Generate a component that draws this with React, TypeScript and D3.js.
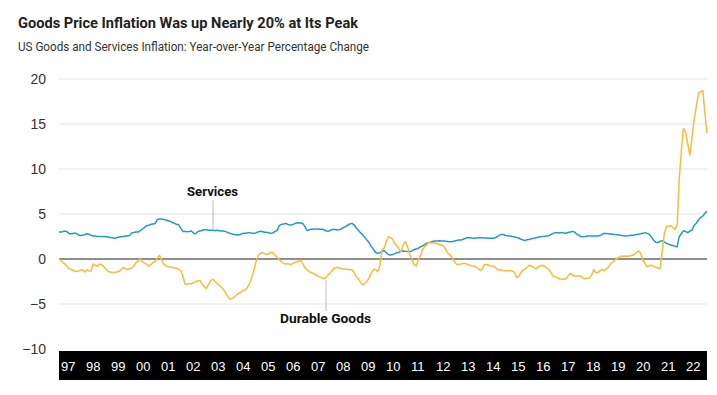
import { useEffect, useRef } from "react";
import * as d3 from "d3";

// monthly values, Jan 1997 .. Apr 2022 (year-over-year %)
const services = [
  // 1997
  3.0, 3.0, 3.05, 3.1, 3.0, 2.8, 2.8, 2.85, 2.85, 2.7, 2.6, 2.65,
  // 1998
  2.7, 2.8, 2.75, 2.65, 2.55, 2.55, 2.5, 2.5, 2.5, 2.5, 2.48, 2.45,
  // 1999
  2.4, 2.35, 2.3, 2.35, 2.45, 2.48, 2.5, 2.55, 2.55, 2.6, 2.9, 2.95,
  // 2000
  3.0, 3.0, 3.15, 3.3, 3.5, 3.7, 3.75, 3.85, 3.9, 3.95, 4.4, 4.45,
  // 2001
  4.45, 4.4, 4.33, 4.25, 4.2, 4.05, 3.96, 3.85, 3.8, 3.4, 3.05, 3.05,
  // 2002
  3.04, 3.05, 3.1, 2.85, 2.8, 3.05, 3.1, 3.2, 3.26, 3.25, 3.2, 3.2,
  // 2003
  3.2, 3.15, 3.2, 3.15, 3.1, 3.1, 3.04, 2.95, 2.85, 2.78, 2.72, 2.7,
  // 2004
  2.67, 2.75, 2.85, 2.85, 2.9, 2.93, 2.88, 2.85, 2.9, 3.0, 3.07, 3.05,
  // 2005
  2.98, 2.96, 2.92, 2.85, 2.9, 3.05, 3.15, 3.7, 3.85, 3.9, 3.96, 3.85,
  // 2006
  3.78, 3.8, 3.9, 4.0, 4.04, 4.0, 3.96, 3.6, 3.15, 3.25, 3.3, 3.3,
  // 2007
  3.33, 3.33, 3.3, 3.3, 3.25, 3.1, 3.07, 3.2, 3.3, 3.28, 3.22, 3.25,
  // 2008
  3.35, 3.5, 3.6, 3.75, 3.9, 3.96, 3.8, 3.45, 3.2, 2.9, 2.7, 2.4,
  // 2009
  2.1, 1.8, 1.4, 1.1, 0.75, 0.63, 0.7, 0.8, 0.95, 0.7, 0.5, 0.44,
  // 2010
  0.5, 0.6, 0.7, 0.75, 0.85, 0.89, 0.85, 0.82, 0.81, 0.9, 1.05, 1.1,
  // 2011
  1.2, 1.35, 1.45, 1.6, 1.74, 1.8, 1.9, 1.98, 2.0, 2.0, 2.02, 2.0,
  // 2012
  2.0, 1.98, 1.95, 1.93, 1.95, 2.0, 2.05, 2.1, 2.12, 2.2, 2.3, 2.37,
  // 2013
  2.37, 2.33, 2.3, 2.32, 2.37, 2.36, 2.35, 2.33, 2.32, 2.3, 2.3, 2.3,
  // 2014
  2.35, 2.5, 2.65, 2.74, 2.7, 2.62, 2.56, 2.55, 2.5, 2.45, 2.4, 2.3,
  // 2015
  2.2, 2.1, 2.05, 2.15, 2.2, 2.26, 2.3, 2.35, 2.42, 2.48, 2.5, 2.52,
  // 2016
  2.56, 2.58, 2.7, 2.85, 2.93, 2.93, 2.9, 2.93, 2.9, 2.85, 2.95, 3.0,
  // 2017
  3.07, 3.0, 2.78, 2.65, 2.5, 2.48, 2.5, 2.55, 2.56, 2.55, 2.55, 2.56,
  // 2018
  2.56, 2.6, 2.75, 2.85, 2.82, 2.8, 2.78, 2.75, 2.72, 2.7, 2.67, 2.62,
  // 2019
  2.58, 2.56, 2.58, 2.62, 2.65, 2.67, 2.72, 2.76, 2.8, 2.85, 2.93, 2.85,
  // 2020
  2.74, 2.45, 2.1, 1.85, 1.81, 1.95, 2.04, 1.9, 1.74, 1.65, 1.56, 1.5,
  // 2021
  1.42, 1.37, 2.48, 2.8, 3.15, 3.05, 2.93, 3.1, 3.22, 3.75, 4.0, 4.33,
  // 2022
  4.6, 4.78, 5.05, 5.3,
];

const durableGoods = [
  // 1997
  0.0, -0.2, -0.4, -0.6, -0.85, -1.1, -1.2, -1.3, -1.4, -1.35, -1.25, -1.2,
  // 1998
  -1.45, -1.2, -1.3, -1.35, -0.55, -0.7, -0.8, -0.55, -0.65, -0.85, -1.1, -1.4,
  // 1999
  -1.45, -1.5, -1.5, -1.45, -1.4, -1.2, -0.95, -1.05, -1.2, -1.1, -1.0, -0.8,
  // 2000
  -0.4, -0.2, 0.0, -0.3, -0.45, -0.6, -0.8, -0.6, -0.4, -0.25, 0.1, 0.4,
  // 2001
  -0.1, -0.6, -0.75, -0.85, -0.9, -0.95, -1.0, -1.0, -1.15, -1.3, -2.0, -2.8,
  // 2002
  -2.78, -2.75, -2.75, -2.6, -2.5, -2.45, -2.4, -2.8, -3.1, -3.25, -2.8, -2.4,
  // 2003
  -2.25, -2.5, -2.7, -2.9, -3.15, -3.4, -3.8, -4.2, -4.48, -4.4, -4.2, -4.0,
  // 2004
  -3.8, -3.7, -3.5, -3.44, -3.2, -2.8, -2.2, -1.4, -0.4, 0.33, 0.6, 0.7,
  // 2005
  0.6, 0.5, 0.55, 0.74, 0.7, 0.44, 0.2, -0.1, -0.3, -0.5, -0.55, -0.5,
  // 2006
  -0.6, -0.55, -0.4, -0.33, -0.25, -0.15, -0.5, -0.96, -1.2, -1.4, -1.5, -1.6,
  // 2007
  -1.75, -1.9, -2.0, -2.1, -2.2, -2.0, -1.75, -1.5, -1.2, -0.96, -0.95, -1.0,
  // 2008
  -1.05, -1.1, -1.15, -1.15, -1.2, -1.2, -1.5, -2.0, -2.2, -2.6, -2.9, -2.7,
  // 2009
  -2.44, -2.1, -1.6, -1.2, -1.15, -1.4, -0.8, 1.0, 1.2, 1.9, 2.48, 2.4,
  // 2010
  2.19, 1.7, 1.5, 1.1, 0.81, 1.6, 1.93, 1.37, 0.5, -0.04, -0.6, -0.78,
  // 2011
  -0.1, 0.4, 1.0, 1.37, 1.6, 1.81, 1.8, 1.78, 1.74, 1.7, 1.6, 1.56,
  // 2012
  1.4, 1.0, 0.6, 0.44, 0.1, -0.3, -0.6, -0.58, -0.55, -0.5, -0.5, -0.6,
  // 2013
  -0.7, -0.75, -0.78, -0.9, -1.05, -1.26, -1.1, -0.6, -0.6, -0.7, -0.78, -0.8,
  // 2014
  -0.9, -1.2, -1.2, -1.25, -1.3, -1.3, -1.3, -1.3, -1.32, -1.5, -2.07, -1.9,
  // 2015
  -1.5, -1.2, -1.15, -0.9, -0.7, -0.8, -0.95, -1.1, -0.9, -0.75, -0.7, -0.8,
  // 2016
  -1.0, -1.15, -1.5, -1.9, -1.96, -2.1, -2.19, -2.22, -2.26, -2.2, -1.9, -1.6,
  // 2017
  -1.75, -1.9, -1.9, -1.9, -1.9, -2.1, -2.2, -2.15, -2.1, -1.8, -1.2, -1.5,
  // 2018
  -1.5, -1.3, -1.15, -1.3, -1.1, -0.85, -0.5, -0.33, -0.1, 0.04, 0.2, 0.33,
  // 2019
  0.3, 0.33, 0.3, 0.35, 0.41, 0.5, 0.7, 0.89, 0.6, -0.11, -0.5, -0.85,
  // 2020
  -0.75, -0.7, -0.8, -0.9, -1.0, -1.07, 0.7, 2.8, 3.6, 3.65, 3.7, 3.5,
  // 2021
  3.3, 3.8, 8.8, 12.0, 14.5, 14.1, 12.8, 11.55, 13.6, 15.5, 17.0, 18.4,
  // 2022
  18.6, 18.7, 16.3, 14.0,
];

const yTicks = [20, 15, 10, 5, 0, -5, -10];
const yearLabels = [
  "97", "98", "99", "00", "01", "02", "03", "04", "05", "06", "07", "08", "09",
  "10", "11", "12", "13", "14", "15", "16", "17", "18", "19", "20", "21", "22",
];

const W = 717;
const H = 395;

export default function App() {
  const ref = useRef<SVGSVGElement>(null);

  useEffect(() => {
    const svg = d3.select(ref.current);
    svg.selectAll("*").remove();

    const left = 59;
    const right = 707;

    const dates = services.map((_, i) => new Date(1997, i, 1));
    const x = d3.scaleTime()
      .domain([dates[0], dates[dates.length - 1]])
      .range([left, right]);
    const y = d3.scaleLinear().domain([-10, 20]).range([349, 79]);

    // title
    svg.append("text")
      .attr("x", 18).attr("y", 28)
      .attr("font-family", "Roboto, sans-serif")
      .attr("font-weight", 700)
      .attr("font-size", 15)
      .attr("fill", "#222")
      .attr("textLength", 340)
      .attr("lengthAdjust", "spacingAndGlyphs")
      .text("Goods Price Inflation Was up Nearly 20% at Its Peak");

    svg.append("text")
      .attr("x", 18).attr("y", 51)
      .attr("font-family", "Roboto, sans-serif")
      .attr("font-size", 12.5)
      .attr("fill", "#333")
      .attr("textLength", 351)
      .attr("lengthAdjust", "spacingAndGlyphs")
      .text("US Goods and Services Inflation: Year-over-Year Percentage Change");

    // gridlines
    svg.append("g")
      .selectAll("line")
      .data(yTicks.filter(d => d !== 0 && d !== -10))
      .join("line")
      .attr("x1", left).attr("x2", right)
      .attr("y1", d => y(d)).attr("y2", d => y(d))
      .attr("stroke", "#e3e3e3")
      .attr("stroke-width", 1);

    // y labels
    svg.append("g")
      .selectAll("text")
      .data(yTicks)
      .join("text")
      .attr("x", 46)
      .attr("y", d => y(d))
      .attr("dy", "0.35em")
      .attr("text-anchor", "end")
      .attr("font-family", "Liberation Sans, Arial, sans-serif")
      .attr("font-size", 14)
      .attr("fill", "#333")
      .text(d => (d < 0 ? "\u2212" + Math.abs(d) : String(d)));

    // leader lines for annotations
    svg.append("line")
      .attr("x1", 213).attr("x2", 213)
      .attr("y1", 200).attr("y2", y(services[74]) - 1)
      .attr("stroke", "#bdbdbd");
    svg.append("line")
      .attr("x1", 326).attr("x2", 326)
      .attr("y1", y(durableGoods[124]) + 1).attr("y2", 311)
      .attr("stroke", "#bdbdbd");

    // zero line
    svg.append("line")
      .attr("x1", left).attr("x2", right)
      .attr("y1", y(0)).attr("y2", y(0))
      .attr("stroke", "#8f8f8f")
      .attr("stroke-width", 2);

    const line = d3.line<number>()
      .x((_, i) => x(dates[i]))
      .y(d => y(d));

    svg.append("path")
      .datum(services)
      .attr("d", line)
      .attr("fill", "none")
      .attr("stroke", "#1d9ad6")
      .attr("stroke-width", 1.5)
      .attr("stroke-linejoin", "round");

    svg.append("path")
      .datum(durableGoods)
      .attr("d", line)
      .attr("fill", "none")
      .attr("stroke", "#ffb838")
      .attr("stroke-width", 1.5)
      .attr("stroke-linejoin", "round");

    // annotations
    svg.append("text")
      .attr("x", 187).attr("y", 196)
      .attr("font-family", "Roboto, sans-serif")
      .attr("font-weight", 700)
      .attr("font-size", 13)
      .attr("fill", "#111")
      .attr("textLength", 51)
      .attr("lengthAdjust", "spacingAndGlyphs")
      .text("Services");

    svg.append("text")
      .attr("x", 280).attr("y", 323)
      .attr("font-family", "Roboto, sans-serif")
      .attr("font-weight", 700)
      .attr("font-size", 13)
      .attr("fill", "#111")
      .attr("textLength", 91)
      .attr("lengthAdjust", "spacingAndGlyphs")
      .text("Durable Goods");

    // black year bar
    const band = d3.scaleBand().domain(yearLabels).range([left, 709]);
    svg.append("rect")
      .attr("x", left).attr("y", 351)
      .attr("width", right - left).attr("height", 29)
      .attr("fill", "#000");

    svg.append("g")
      .selectAll("text")
      .data(yearLabels)
      .join("text")
      .attr("x", d => (band(d) ?? 0) + 2)
      .attr("y", 371)
      .attr("font-family", "Liberation Sans, Arial, sans-serif")
      .attr("font-size", 13)
      .attr("fill", "#fff")
      .text(d => d);
  }, []);

  return (
    <svg
      ref={ref}
      width={W}
      height={H}
      style={{ position: "absolute", left: 0, top: 0, background: "#fff" }}
    />
  );
}
